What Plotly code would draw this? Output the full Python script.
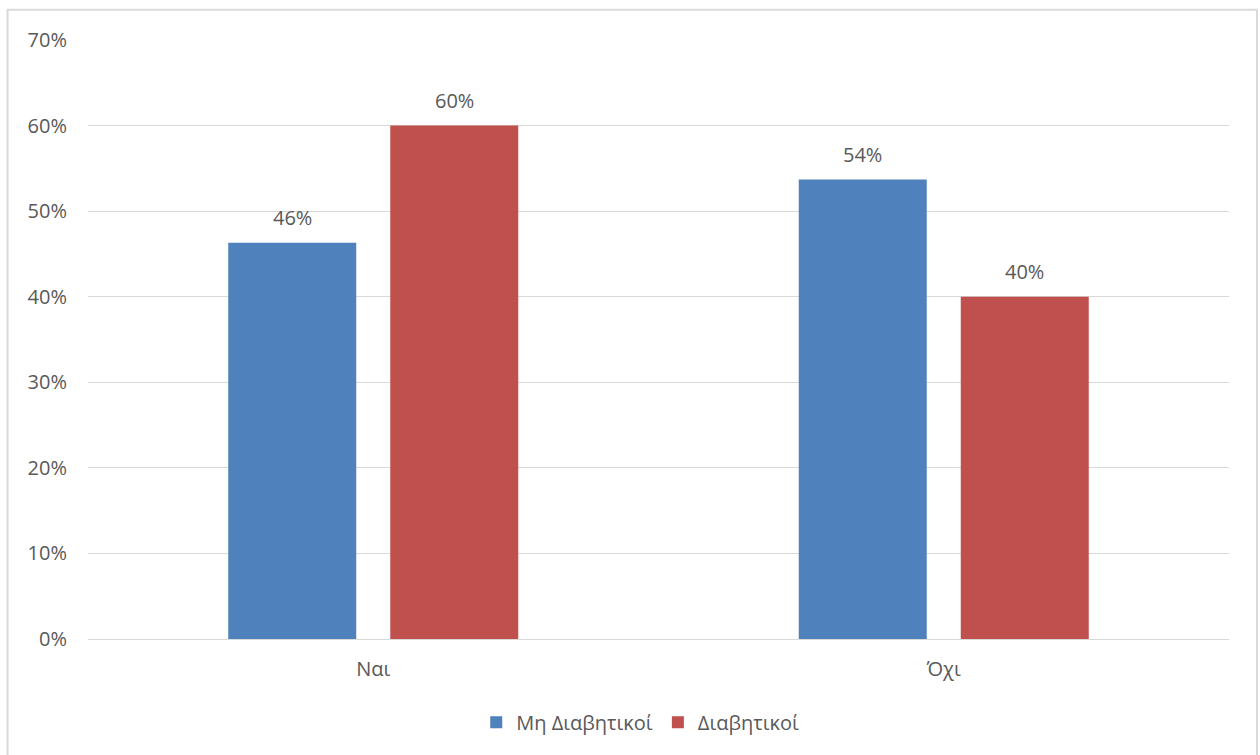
import plotly.graph_objects as go

# Survey answers and the share of each group that gave them
categories = ["Ναι", "Όχι"]
series_names = ["Μη Διαβητικοί", "Διαβητικοί"]
non_diabetic = [0.463, 0.537]
diabetic = [0.60, 0.40]
y_ticks = [0, 0.1, 0.2, 0.3, 0.4, 0.5, 0.6, 0.7]
y_tick_labels = ["0%", "10%", "20%", "30%", "40%", "50%", "60%", "70%"]

FONT = "Open Sans"
FONT_SIZE = 20
TEXT_COLOR = "#595959"
colors = ["#4F81BD", "#C0504D"]

# Horizontal offset (px) of each bar within its category group
BAR_OFFSETS = [-81, 81]

fig = go.Figure()
for name, values, color in zip(series_names, [non_diabetic, diabetic], colors):
    fig.add_trace(go.Bar(
        x=categories,
        y=values,
        name=name,
        marker=dict(color=color, line=dict(width=0)),
    ))

# Value labels above each bar
for values, dx in zip([non_diabetic, diabetic], BAR_OFFSETS):
    for cat, v in zip(categories, values):
        fig.add_annotation(
            x=cat, y=v, xref="x", yref="y",
            text=f"{v:.0%}",
            showarrow=False,
            xshift=dx, yshift=25,
            yanchor="middle",
            font=dict(family=FONT, size=FONT_SIZE, color=TEXT_COLOR),
        )

fig.update_layout(
    width=1260,
    height=755,
    margin=dict(l=88, r=31, t=40, b=116),
    paper_bgcolor="white",
    plot_bgcolor="white",
    barmode="group",
    bargap=0.432,
    bargroupgap=0.21,
    font=dict(family=FONT, size=FONT_SIZE, color=TEXT_COLOR),
    showlegend=True,
    legend=dict(
        orientation="h",
        x=0.484, xanchor="center",
        y=-0.139, yanchor="middle",
        font=dict(family=FONT, size=FONT_SIZE, color=TEXT_COLOR),
        itemwidth=30,
        traceorder="normal",
    ),
    xaxis=dict(
        showgrid=False,
        showline=True,
        linecolor="#d9d9d9",
        linewidth=1,
        ticks="",
        ticklabelstandoff=12,
        tickfont=dict(family=FONT, size=FONT_SIZE, color=TEXT_COLOR),
    ),
    yaxis=dict(
        range=[0, 0.7],
        tickvals=y_ticks,
        ticktext=y_tick_labels,
        showgrid=True,
        gridcolor="#d9d9d9",
        gridwidth=1,
        zeroline=False,
        showline=False,
        ticks="",
        ticklabelstandoff=20,
        tickfont=dict(family=FONT, size=FONT_SIZE, color=TEXT_COLOR),
    ),
)

# Light frame around the whole chart
fig.add_shape(
    type="rect", xref="paper", yref="paper",
    x0=-0.0705, x1=1.0245, y0=-0.21, y1=1.0505,
    line=dict(color="#d9d9d9", width=2),
    fillcolor="rgba(0,0,0,0)",
    layer="below",
)

fig.write_html("out.html")
